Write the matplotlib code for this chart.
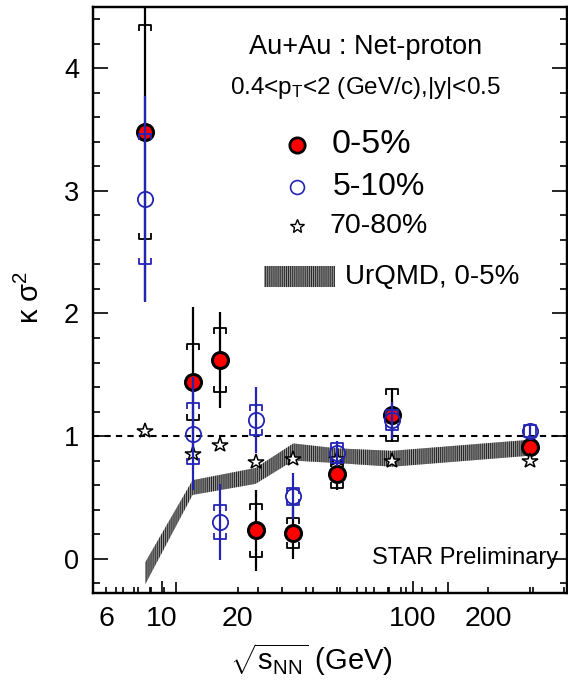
import numpy as np
import matplotlib.pyplot as plt
from matplotlib.path import Path
from matplotlib.patches import Rectangle
from matplotlib.ticker import MultipleLocator, FixedLocator, FuncFormatter, NullFormatter

plt.rcParams['font.family'] = ['Liberation Sans', 'DejaVu Sans']
plt.rcParams['mathtext.fontset'] = 'custom'
plt.rcParams['mathtext.rm'] = 'Liberation Sans'
plt.rcParams['mathtext.it'] = 'Liberation Sans:italic'
plt.rcParams['hatch.linewidth'] = 0.7

# collision energies (GeV)
energy = [7.7, 11.5, 14.5, 19.6, 27, 39, 62.4, 200]

# kappa*sigma^2, 0-5% central
k_05 = [3.48, 1.44, 1.62, 0.23, 0.21, 0.69, 1.17, 0.91]
k_05_stat = [1.38, 0.61, 0.39, 0.33, 0.21, 0.13, 0.22, 0.05]
k_05_sys = [0.87, 0.31, 0.26, 0.22, 0.12, 0.11, 0.21, 0.04]

# 5-10%
k_510 = [2.93, 1.02, 0.30, 1.13, 0.51, 0.86, 1.13, 1.04]
k_510_stat = [0.84, 0.46, 0.31, 0.27, 0.19, 0.10, 0.15, 0.05]
k_510_sys = [0.53, 0.25, 0.14, 0.12, 0.07, 0.08, 0.08, 0.05]

# 70-80%
k_7080 = [1.04, 0.85, 0.93, 0.79, 0.81, 0.81, 0.80, 0.80]

# UrQMD band, 0-5%
urqmd_e = [7.7, 11.5, 19.6, 27, 39, 62.4, 200]
urqmd_lo = [-0.21, 0.52, 0.61, 0.80, 0.78, 0.75, 0.84]
urqmd_hi = [-0.03, 0.64, 0.74, 0.94, 0.90, 0.88, 0.97]

# bracket shapes for the systematic errors
br_top = Path([(-1, -1), (-1, 0), (1, 0), (1, -1)])
br_bot = Path([(-1, 1), (-1, 0), (1, 0), (1, 1)])

blue = '#2424b4'


def draw_set(ax, y, stat, sys, col, z, **mk):
    y = np.array(y)
    sys = np.array(sys)
    ax.errorbar(energy, y, yerr=stat, fmt='none', ecolor=col, elinewidth=1.6, capsize=0, zorder=z)
    ax.plot(energy, y + sys, ls='none', marker=br_top, ms=8, mec=col, mew=1.3, fillstyle='none', zorder=z)
    ax.plot(energy, y - sys, ls='none', marker=br_bot, ms=8, mec=col, mew=1.3, fillstyle='none', zorder=z)
    ax.plot(energy, y, ls='none', zorder=z + 0.5, **mk)


fig = plt.figure(figsize=(5.68, 6.8), dpi=100)
ax = fig.add_axes([93 / 568, 87 / 680, 474 / 568, 586 / 680])

ax.set_xscale('log')
ax.set_xlim(4.95, 274)
ax.set_ylim(-0.28, 4.5)

# model band
ax.fill_between(urqmd_e, urqmd_lo, urqmd_hi, facecolor='#9a9a9a', edgecolor='#222222',
                hatch='||||||||', linewidth=0, zorder=1)
ax.axhline(1, color='black', ls=(0, (3, 2.5)), lw=1.5, zorder=2)

draw_set(ax, k_05, k_05_stat, k_05_sys, 'black', 3,
         marker='o', ms=11.5, mfc='red', mec='black', mew=2.2)
ax.plot(energy, k_7080, ls='none', marker='*', ms=11.5, mfc='white', mec='black', mew=1.1, zorder=4)
draw_set(ax, k_510, k_510_stat, k_510_sys, blue, 5,
         marker='o', ms=11, mfc='none', mec=blue, mew=1.3)

# top axis carries the ticks of the data scale
ax.xaxis.set_ticks_position('top')
ax.xaxis.set_major_locator(FixedLocator([10, 100]))
ax.xaxis.set_minor_locator(FixedLocator([6, 7, 8, 9, 20, 30, 40, 50, 60, 70, 80, 90, 200]))
ax.xaxis.set_major_formatter(NullFormatter())
ax.xaxis.set_minor_formatter(NullFormatter())
ax.tick_params(axis='x', which='major', direction='in', length=8, width=1.2)
ax.tick_params(axis='x', which='minor', direction='in', length=4.5, width=1.2)

ax.yaxis.set_major_locator(MultipleLocator(1))
ax.yaxis.set_minor_locator(MultipleLocator(0.2))
ax.yaxis.set_ticks_position('both')
ax.tick_params(axis='y', which='major', direction='in', length=11, width=1.2, labelsize=19.5, pad=10)
ax.tick_params(axis='y', which='minor', direction='in', length=5, width=1.2)
for s in ax.spines.values():
    s.set_linewidth(1.6)

# bottom axis with its own labelled scale
axb = ax.twiny()
axb.set_xscale('log')
axb.set_xlim(5.31, 411)
axb.xaxis.set_ticks_position('bottom')
axb.xaxis.set_label_position('bottom')
axb.xaxis.set_major_locator(FixedLocator([10, 100]))
axb.xaxis.set_minor_locator(FixedLocator([6, 7, 8, 9, 20, 30, 40, 50, 60, 70, 80, 90, 200, 300, 400]))
axb.xaxis.set_major_formatter(FuncFormatter(lambda v, p: '%d' % round(v)))
axb.xaxis.set_minor_formatter(FuncFormatter(lambda v, p: {6: '6', 20: '20', 200: '200'}.get(int(round(v)), '')))
axb.tick_params(axis='x', which='major', direction='in', length=9, width=1.2, labelsize=20.5, pad=9)
axb.tick_params(axis='x', which='minor', direction='in', length=4.5, width=1.2, labelsize=20.5, pad=9)
for s in axb.spines.values():
    s.set_linewidth(1.6)

axb.set_xlabel(r'$\sqrt{\mathrm{s_{NN}}}$ (GeV)', fontsize=21, va='center')
axb.xaxis.set_label_coords(0.46, -0.114)
ax.set_ylabel('κ σ$^2$', fontsize=21, va='center')
ax.yaxis.set_label_coords(-0.133, 0.505)

# annotations
ax.text(0.576, 0.932, 'Au+Au : Net-proton', transform=ax.transAxes, ha='center', va='center', fontsize=19.5)
ax.text(0.575, 0.862, r'0.4<p$_{\mathrm{T}}$<2 (GeV/c),|y|<0.5', transform=ax.transAxes,
        ha='center', va='center', fontsize=17.5)
ax.text(0.785, 0.06, 'STAR Preliminary', transform=ax.transAxes, ha='center', va='center', fontsize=17)

# legend
lx = 0.430
ax.plot([lx], [0.765], transform=ax.transAxes, marker='o', ms=11, mfc='red', mec='black', mew=2, clip_on=False)
ax.text(0.503, 0.765, '0-5%', transform=ax.transAxes, va='center', fontsize=24.5)
ax.plot([lx], [0.693], transform=ax.transAxes, marker='o', ms=10, mfc='none', mec=blue, mew=1.2, clip_on=False)
ax.text(0.505, 0.693, '5-10%', transform=ax.transAxes, va='center', fontsize=23)
ax.plot([lx], [0.626], transform=ax.transAxes, marker='*', ms=10, mfc='white', mec='black', mew=1, clip_on=False)
ax.text(0.499, 0.626, '70-80%', transform=ax.transAxes, va='center', fontsize=20.5)
ax.add_patch(Rectangle((0.361, 0.523), 0.15, 0.035, transform=ax.transAxes, facecolor='#9a9a9a',
                       edgecolor='#222222', hatch='||||||||', linewidth=0))
ax.text(0.532, 0.540, 'UrQMD, 0-5%', transform=ax.transAxes, va='center', fontsize=20)

fig.savefig('out.png', dpi=100)
